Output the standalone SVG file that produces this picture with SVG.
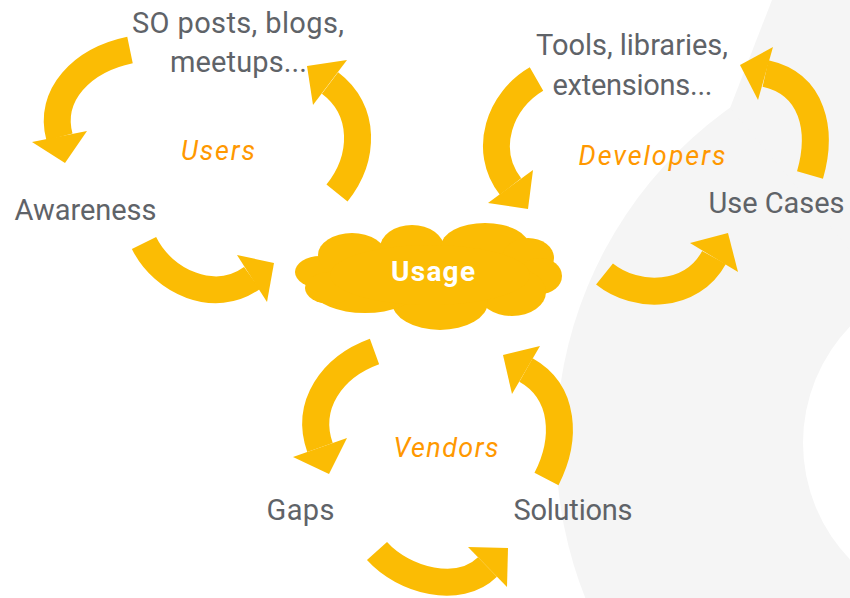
<svg xmlns="http://www.w3.org/2000/svg" width="850" height="598" viewBox="0 0 850 598">
<defs>
<style>
.lbl{font-family:Roboto,"Open Sans","Liberation Sans",sans-serif;font-size:29px;fill:#5f6368;text-anchor:middle}
.grp{font-family:Roboto,"Open Sans","Liberation Sans",sans-serif;font-size:27px;font-style:italic;fill:#FF9800;text-anchor:middle}
.band{fill:none;stroke:#FBBC04;stroke-width:27;stroke-linecap:butt}
.head{fill:#FBBC04}
</style>
</defs>
<rect x="0" y="0" width="850" height="598" fill="#ffffff"/>
<g id="background">
<circle cx="970" cy="445" r="414" fill="#f5f5f5"/>
<polygon points="772,0 850,0 850,250 730,108" fill="#f5f5f5"/>
<circle cx="971" cy="443" r="168" fill="#ffffff"/>
</g>
<g id="connectors">
<path class="band" d="M130,50 C82,60 48,95 59.5,137"/>
<polygon class="head" points="32,142 87,131 65,163"/>
<path class="band" d="M337,193 C365,158 366,110 330,83"/>
<polygon class="head" points="307,66 347,60 313,105"/>
<path class="band" d="M144,243 C163,282 215,305 252,278"/>
<polygon class="head" points="237,255 274,263 267,302"/>
<path class="band" d="M536.5,79 C500,100 482,150 510.5,186.5"/>
<polygon class="head" points="488,203 533,170 528,209"/>
<path class="band" d="M604.5,274 C637,300 692,298 714,257.5"/>
<polygon class="head" points="690,243 728,233 738,272"/>
<path class="band" d="M810,175 C823,130 813,84 765.5,73.5"/>
<polygon class="head" points="740,65 773,47 758,100"/>
<path class="band" d="M374.5,351.5 C332,367 305,405 320,447.5"/>
<polygon class="head" points="293,457 347,438 329,474"/>
<path class="band" d="M377,551 C404,581 459,595 487.5,567"/>
<polygon class="head" points="468,547 508,548 507,587"/>
<path class="band" d="M546.5,479 C567,439 565,392 526,370"/>
<polygon class="head" points="503,355 540,346 512,394"/>
</g>
<g id="usage">
<g fill="#FBBC04">
<ellipse cx="320" cy="272" rx="25" ry="16"/>
<ellipse cx="352" cy="255" rx="34" ry="22"/>
<ellipse cx="412" cy="248" rx="32" ry="23"/>
<ellipse cx="485" cy="246" rx="44" ry="23"/>
<ellipse cx="528" cy="258" rx="26" ry="20"/>
<ellipse cx="540" cy="276" rx="22" ry="18"/>
<ellipse cx="512" cy="292" rx="34" ry="24"/>
<ellipse cx="440" cy="302" rx="48" ry="28"/>
<ellipse cx="365" cy="292" rx="50" ry="21"/>
<ellipse cx="330" cy="288" rx="25" ry="16"/>
<ellipse cx="430" cy="275" rx="100" ry="30"/>
</g>
<text x="433" y="281" font-family="Roboto,'Open Sans','Liberation Sans',sans-serif" font-size="28" font-weight="bold" fill="#ffffff" text-anchor="middle" textLength="84">Usage</text>
</g>
<g id="so-posts"><text class="lbl" x="238" y="33" textLength="212">SO posts, blogs,</text><text class="lbl" x="238.5" y="72" textLength="137">meetups...</text></g>
<g id="users"><text class="grp" x="218" y="160" textLength="74">Users</text></g>
<g id="awareness"><text class="lbl" x="85.5" y="220" textLength="142">Awareness</text></g>
<g id="tools"><text class="lbl" x="632" y="55" textLength="192">Tools, libraries,</text><text class="lbl" x="632.5" y="95" textLength="160">extensions...</text></g>
<g id="developers"><text class="grp" x="652" y="165" textLength="147">Developers</text></g>
<g id="use-cases"><text class="lbl" x="776.5" y="213" textLength="136">Use Cases</text></g>
<g id="vendors"><text class="grp" x="446" y="457" textLength="105">Vendors</text></g>
<g id="gaps"><text class="lbl" x="300.5" y="520" textLength="68">Gaps</text></g>
<g id="solutions"><text class="lbl" x="573" y="520" textLength="119">Solutions</text></g>
</svg>
